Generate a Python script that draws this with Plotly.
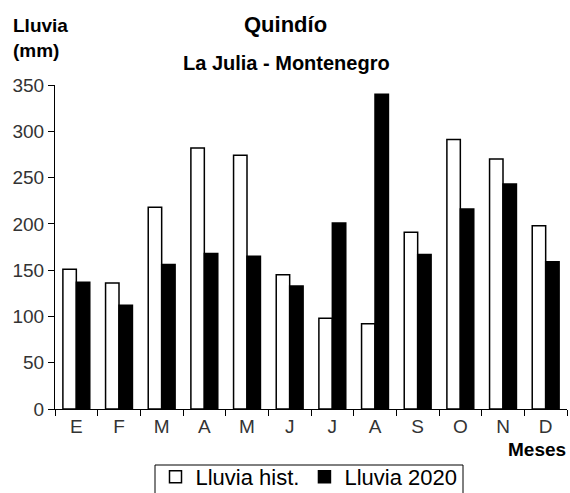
import plotly.graph_objects as go

meses = ["E", "F", "M", "A", "M", "J", "J", "A", "S", "O", "N", "D"]
lluvia_hist = [151, 136, 218, 282, 274, 145, 98, 92, 191, 291, 270, 198]
lluvia_2020 = [137, 112, 156, 168, 165, 133, 201, 340, 167, 216, 243, 159]
yticks = [0, 50, 100, 150, 200, 250, 300, 350]

# unique x positions so repeated month letters stay separate
xpos = list(range(len(meses)))

FONT = "Liberation Sans, Arial, sans-serif"
W, H = 570, 493
L, R, T, B = 55, 3, 85, 84
PW, PH = W - L - R, H - T - B


def px_x(x):
    return (x - L) / PW


def px_y(y):
    return (H - B - y) / PH


fig = go.Figure()
fig.add_trace(go.Bar(
    x=xpos, y=lluvia_hist, name="Lluvia hist.",
    marker=dict(color="white", line=dict(color="black", width=1.5)),
))
fig.add_trace(go.Bar(
    x=xpos, y=lluvia_2020, name="Lluvia 2020",
    marker=dict(color="black", line=dict(color="black", width=1.5)),
))

fig.update_layout(
    width=W, height=H,
    margin=dict(l=L, r=R, t=T, b=B, autoexpand=False),
    paper_bgcolor="white", plot_bgcolor="white",
    barmode="group", bargap=0.37, bargroupgap=0,
    font=dict(family=FONT, color="black"),
    showlegend=True,
    legend=dict(orientation="h", x=px_x(309), xanchor="center", y=px_y(456), yanchor="top",
                borderwidth=0, bgcolor="rgba(0,0,0,0)",
                font=dict(size=22, color="black"), itemwidth=30,
                traceorder="normal"),
    shapes=[
        dict(type="rect", xref="paper", yref="paper",
             x0=px_x(155), x1=px_x(463), y0=px_y(496), y1=px_y(465),
             line=dict(color="black", width=1), fillcolor="rgba(0,0,0,0)", layer="below"),
    ],
    xaxis=dict(
        type="linear", range=[-0.5, 11.5], automargin=False,
        tickmode="array", tickvals=xpos, ticktext=meses,
        showline=True, linecolor="black", linewidth=1,
        ticks="", showgrid=False, zeroline=False,
        tickfont=dict(size=19, color="#333"),
    ),
    yaxis=dict(
        range=[0, 350], tickvals=yticks, automargin=False,
        showline=True, linecolor="black", linewidth=1,
        ticks="outside", ticklen=6, tickcolor="black",
        showgrid=False, zeroline=False,
        tickfont=dict(size=19, color="#333"),
    ),
    annotations=[
        dict(text="<b>Quindío</b>", xref="paper", yref="paper",
             x=px_x(285), y=px_y(24), xanchor="center", yanchor="middle",
             showarrow=False, font=dict(size=22, color="black")),
        dict(text="<b>La Julia - Montenegro</b>", xref="paper", yref="paper",
             x=px_x(286), y=px_y(63), xanchor="center", yanchor="middle",
             showarrow=False, font=dict(size=20, color="black")),
        dict(text="<b>Lluvia<br>(mm)</b>", xref="paper", yref="paper",
             x=px_x(11), y=px_y(13), xanchor="left", yanchor="top",
             align="left", showarrow=False, font=dict(size=19, color="black")),
        dict(text="<b>Meses</b>", xref="paper", yref="paper",
             x=px_x(568), y=px_y(449), xanchor="right", yanchor="middle",
             showarrow=False, font=dict(size=19, color="black")),
    ],
)

# category-boundary tick marks on the x axis (drawn via a secondary axis)
fig.update_layout(
    xaxis2=dict(
        overlaying="x", matches="x", side="bottom", anchor="y", automargin=False,
        tickmode="array", tickvals=[i - 0.5 for i in range(len(meses) + 1)],
        ticktext=[""] * (len(meses) + 1),
        ticks="outside", ticklen=6, tickcolor="black",
        showline=False, showgrid=False, zeroline=False,
    )
)
fig.add_trace(go.Scatter(x=[0], y=[0], xaxis="x2", mode="markers",
                         marker=dict(opacity=0), showlegend=False, hoverinfo="skip"))

fig.write_html(
    "out.html",
    config={"displayModeBar": False},
    post_script="document.body.style.margin='0';document.body.style.overflow='hidden';",
)
